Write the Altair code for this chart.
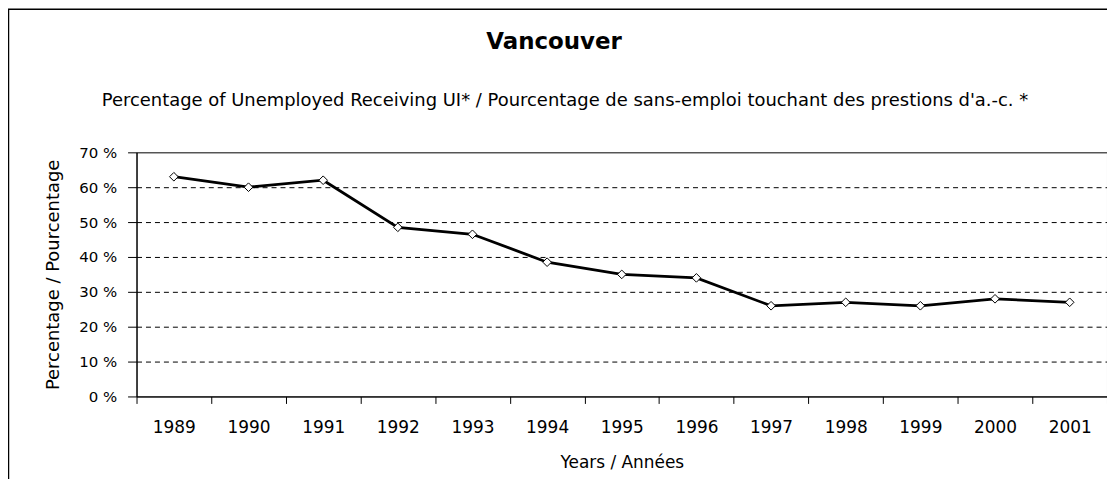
import altair as alt
import pandas as pd

years = ["1989", "1990", "1991", "1992", "1993", "1994", "1995",
         "1996", "1997", "1998", "1999", "2000", "2001"]
values = [63, 60, 62, 48.5, 46.5, 38.5, 35, 34, 26, 27, 26, 28, 27]
y_ticks = [0, 10, 20, 30, 40, 50, 60, 70]

title_text = "Vancouver"
subtitle_text = ("Percentage of Unemployed Receiving UI* / Pourcentage de "
                 "sans-emploi touchant des prestions d'a.-c. *")
x_title = "Years / Années"
y_title = "Percentage / Pourcentage"

FONT = "DejaVu Sans"

df = pd.DataFrame({"year": years, "value": values})

x_enc = alt.X(
    "year:N",
    sort=years,
    scale=alt.Scale(type="band", paddingInner=0, paddingOuter=0),
    axis=alt.Axis(
        title=x_title,
        labelAngle=0,
        tickBand="extent",
        tickSize=7,
        tickColor="black",
        domainColor="black",
        labelFont=FONT,
        labelFontSize=17,
        labelColor="black",
        labelPadding=16,
        titleFont=FONT,
        titleFontSize=17,
        titleFontWeight="normal",
        titleColor="black",
        titlePadding=19,
        grid=False,
    ),
)
y_enc = alt.Y(
    "value:Q",
    scale=alt.Scale(domain=[0, 70], nice=False, zero=True),
    axis=alt.Axis(
        title=y_title,
        values=y_ticks,
        labelExpr="datum.value + ' %'",
        labelOverlap=False,
        tickSize=9,
        tickColor="black",
        domainColor="black",
        labelFont=FONT,
        labelFontSize=15,
        labelColor="black",
        labelPadding=11,
        titleFont=FONT,
        titleFontSize=18,
        titleFontWeight="normal",
        titleColor="black",
        titlePadding=16,
        grid=True,
        gridColor="black",
        gridDash=[5, 4],
        gridWidth=1,
        gridOpacity={"condition": {"test": "datum.value >= 70 || datum.value <= 0",
                                   "value": 0}, "value": 1},
    ),
)

base = alt.Chart(df).encode(x=x_enc, y=y_enc)
line = base.mark_line(color="black", strokeWidth=2.8)
pts = base.mark_point(
    shape="diamond", size=75, filled=True, fill="white", stroke="black",
    strokeWidth=1, opacity=1
)

one = pd.DataFrame({"f": [0]})
frame = alt.Chart(one).mark_rect(
    filled=False, fill=None, stroke="black", strokeWidth=1.5
).encode(
    x=alt.value(-128.5), x2=alt.value(3000),
    y=alt.value(-143.5), y2=alt.value(3000),
)

title_mark = alt.Chart(one).mark_text(
    text=title_text, font=FONT, fontSize=23, fontWeight="bold",
    color="black", align="center", baseline="middle"
).encode(x=alt.value(419), y=alt.value(-111))

subtitle_mark = alt.Chart(one).mark_text(
    text=subtitle_text, font=FONT, fontSize=18, fontWeight="normal",
    color="black", align="center", baseline="middle"
).encode(x=alt.value(430), y=alt.value(-51))

chart = alt.layer(frame, line, pts, title_mark, subtitle_mark).properties(
    width=974,
    height=245,
    autosize=alt.AutoSizeParams(type="none"),
    padding={"left": 129, "top": 144, "right": 0, "bottom": 82},
).configure(
    background="white",
    view=alt.ViewConfig(stroke="black", strokeWidth=1),
)

chart.save("out.html", embed_options={"renderer": "svg", "actions": False})
